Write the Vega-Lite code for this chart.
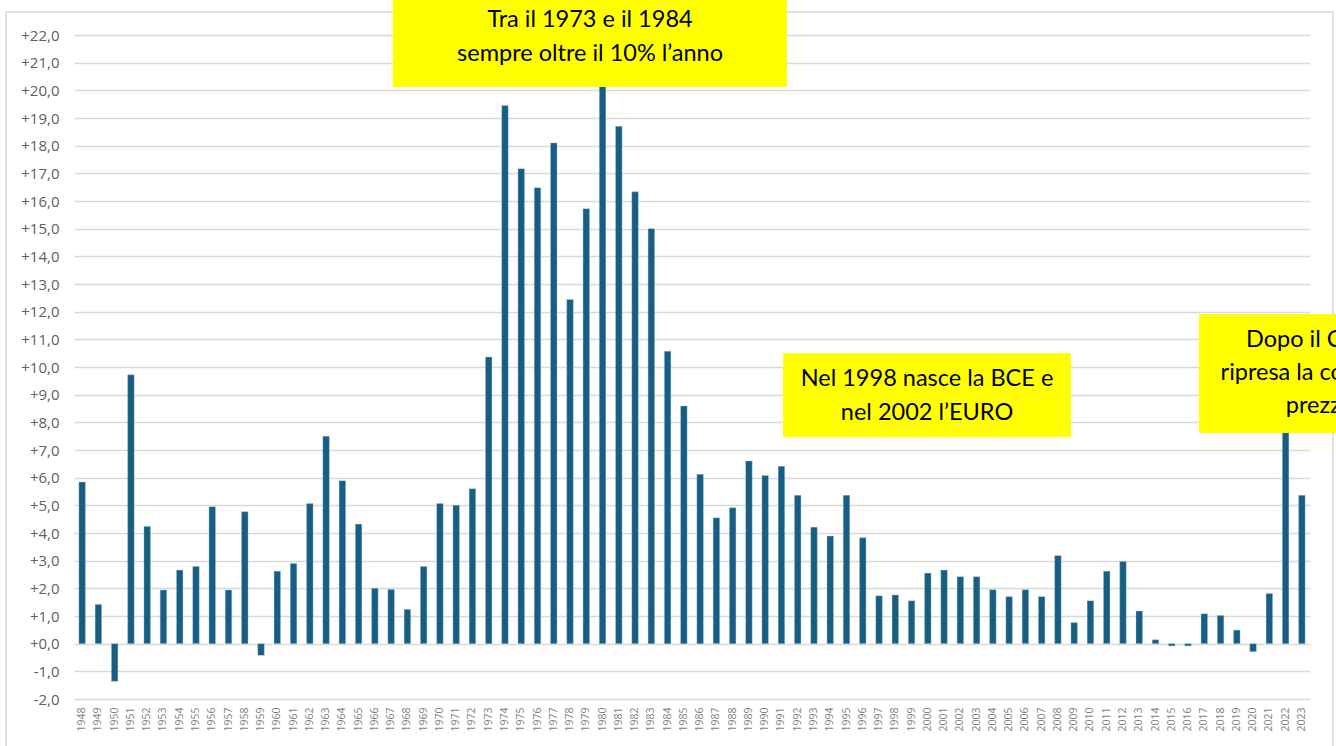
{
  "$schema": "https://vega.github.io/schema/vega-lite/v6.json",
  "width": 1236,
  "height": 664,
  "autosize": {"type": "none"},
  "padding": {"left": 74, "top": 35, "right": 26, "bottom": 47},
  "background": "#ffffff",
  "config": {
    "view": {"stroke": null},
    "locale": {"number": {"decimal": ",", "thousands": ".", "grouping": [3], "currency": ["", " €"], "minus": "-"}},
    "axisY": {"labelFont": "Open Sans", "labelFontSize": 15, "labelColor": "#606060"}
  },
  "datasets": {
    "inflazione": [
      {"anno": "1948", "v": 5.84}, {"anno": "1949", "v": 1.42}, {"anno": "1950", "v": -1.36}, {"anno": "1951", "v": 9.72},
      {"anno": "1952", "v": 4.24}, {"anno": "1953", "v": 1.94}, {"anno": "1954", "v": 2.66}, {"anno": "1955", "v": 2.79},
      {"anno": "1956", "v": 4.95}, {"anno": "1957", "v": 1.94}, {"anno": "1958", "v": 4.77}, {"anno": "1959", "v": -0.42},
      {"anno": "1960", "v": 2.62}, {"anno": "1961", "v": 2.9}, {"anno": "1962", "v": 5.07}, {"anno": "1963", "v": 7.5},
      {"anno": "1964", "v": 5.89}, {"anno": "1965", "v": 4.32}, {"anno": "1966", "v": 2.0}, {"anno": "1967", "v": 1.96},
      {"anno": "1968", "v": 1.24}, {"anno": "1969", "v": 2.79}, {"anno": "1970", "v": 5.07}, {"anno": "1971", "v": 5.0},
      {"anno": "1972", "v": 5.6}, {"anno": "1973", "v": 10.36}, {"anno": "1974", "v": 19.45}, {"anno": "1975", "v": 17.17},
      {"anno": "1976", "v": 16.48}, {"anno": "1977", "v": 18.1}, {"anno": "1978", "v": 12.44}, {"anno": "1979", "v": 15.72},
      {"anno": "1980", "v": 21.1}, {"anno": "1981", "v": 18.7}, {"anno": "1982", "v": 16.33}, {"anno": "1983", "v": 15.0},
      {"anno": "1984", "v": 10.57}, {"anno": "1985", "v": 8.59}, {"anno": "1986", "v": 6.12}, {"anno": "1987", "v": 4.55},
      {"anno": "1988", "v": 4.91}, {"anno": "1989", "v": 6.6}, {"anno": "1990", "v": 6.08}, {"anno": "1991", "v": 6.41},
      {"anno": "1992", "v": 5.36}, {"anno": "1993", "v": 4.21}, {"anno": "1994", "v": 3.89}, {"anno": "1995", "v": 5.36},
      {"anno": "1996", "v": 3.83}, {"anno": "1997", "v": 1.73}, {"anno": "1998", "v": 1.76}, {"anno": "1999", "v": 1.55},
      {"anno": "2000", "v": 2.55}, {"anno": "2001", "v": 2.66}, {"anno": "2002", "v": 2.42}, {"anno": "2003", "v": 2.42},
      {"anno": "2004", "v": 1.95}, {"anno": "2005", "v": 1.7}, {"anno": "2006", "v": 1.95}, {"anno": "2007", "v": 1.7},
      {"anno": "2008", "v": 3.18}, {"anno": "2009", "v": 0.76}, {"anno": "2010", "v": 1.55}, {"anno": "2011", "v": 2.62},
      {"anno": "2012", "v": 2.97}, {"anno": "2013", "v": 1.18}, {"anno": "2014", "v": 0.14}, {"anno": "2015", "v": -0.08},
      {"anno": "2016", "v": -0.08}, {"anno": "2017", "v": 1.08}, {"anno": "2018", "v": 1.02}, {"anno": "2019", "v": 0.49},
      {"anno": "2020", "v": -0.29}, {"anno": "2021", "v": 1.81}, {"anno": "2022", "v": 8.1}, {"anno": "2023", "v": 5.36}
    ],
    "cornice": [
      {"x": 1943.32, "x2": 2024.91, "v": 22.83, "v2": -3.9}
    ],
    "riquadri": [
      {"x": 1967.1, "x2": 1991.34, "v": 23.4, "v2": 20.12},
      {"x": 1991.1, "x2": 2008.8, "v": 10.5, "v2": 7.47},
      {"x": 2016.68, "x2": 2031.06, "v": 11.92, "v2": 7.615}
    ],
    "testi": [
      {"x": 1979.23, "v": 22.28, "t": "Tra il 1973 e il 1984"},
      {"x": 1979.23, "v": 21.06, "t": "sempre oltre il 10% l’anno"},
      {"x": 1999.95, "v": 9.31, "t": "Nel 1998 nasce la BCE e"},
      {"x": 1999.95, "v": 8.085, "t": "nel 2002 l’EURO"},
      {"x": 2023.87, "v": 10.72, "t": "Dopo il Covid"},
      {"x": 2023.87, "v": 9.53, "t": "ripresa la corsa dei"},
      {"x": 2023.87, "v": 8.34, "t": "prezzi"}
    ]
  },
  "layer": [
    {
      "data": {"name": "inflazione"},
      "mark": {"type": "bar", "color": "#175e82", "stroke": "#a9c6d6", "strokeWidth": 0.4},
      "encoding": {
        "x": {
          "field": "anno", "type": "ordinal", "sort": null,
          "scale": {"paddingInner": 0.6, "paddingOuter": 0.3},
          "axis": {
            "title": null, "labelAngle": 270, "labelFont": "Open Sans", "labelFontSize": 10.5,
            "labelColor": "#7f7f7f", "labelPadding": 8, "ticks": false, "domain": false, "grid": false,
            "labelOverlap": false
          }
        },
        "y": {
          "field": "v", "type": "quantitative",
          "scale": {"domain": [-2, 22], "nice": false, "zero": false},
          "axis": {"title": null, "values": [-2, -1, 0, 1, 2, 3, 4, 5, 6, 7, 8, 9, 10, 11, 12, 13, 14, 15, 16, 17, 18, 19, 20, 21, 22], "format": "+.1f",
            "labelFont": "Open Sans", "labelFontSize": 15, "labelColor": "#606060", "labelPadding": 15, "ticks": false, "domain": false, "grid": true, "labelOverlap": false, "gridColor": "#d9d9d9", "gridWidth": 1.6}
        }
      }
    },
    {
      "data": {"name": "cornice"},
      "mark": {"type": "rect", "fill": null, "fillOpacity": 0, "stroke": "#d9d9d9", "strokeWidth": 1.6, "clip": false},
      "encoding": {
        "x": {"field": "x", "type": "quantitative", "scale": {"domain": [1947.5, 2023.5], "nice": false, "zero": false}, "axis": null},
        "x2": {"field": "x2"},
        "y": {"field": "v", "type": "quantitative", "scale": {"domain": [-2, 22], "nice": false, "zero": false},
          "axis": {"title": null, "values": [-2, -1, 0, 1, 2, 3, 4, 5, 6, 7, 8, 9, 10, 11, 12, 13, 14, 15, 16, 17, 18, 19, 20, 21, 22], "format": "+.1f",
            "labelFont": "Open Sans", "labelFontSize": 15, "labelColor": "#606060", "labelPadding": 15, "ticks": false, "domain": false, "grid": true, "labelOverlap": false, "gridColor": "#d9d9d9", "gridWidth": 1.6}},
        "y2": {"field": "v2"}
      }
    },
    {
      "data": {"name": "riquadri"},
      "mark": {"type": "rect", "fill": "#ffff00", "clip": false},
      "encoding": {
        "x": {"field": "x", "type": "quantitative", "scale": {"domain": [1947.5, 2023.5], "nice": false, "zero": false}, "axis": null},
        "x2": {"field": "x2"},
        "y": {"field": "v", "type": "quantitative", "scale": {"domain": [-2, 22], "nice": false, "zero": false},
          "axis": {"title": null, "values": [-2, -1, 0, 1, 2, 3, 4, 5, 6, 7, 8, 9, 10, 11, 12, 13, 14, 15, 16, 17, 18, 19, 20, 21, 22], "format": "+.1f",
            "labelFont": "Open Sans", "labelFontSize": 15, "labelColor": "#606060", "labelPadding": 15, "ticks": false, "domain": false, "grid": true, "labelOverlap": false, "gridColor": "#d9d9d9", "gridWidth": 1.6}},
        "y2": {"field": "v2"}
      }
    },
    {
      "data": {"name": "testi"},
      "mark": {"type": "text", "font": "Lato", "fontSize": 23.5, "color": "#000000", "align": "center", "baseline": "alphabetic", "clip": false},
      "encoding": {
        "x": {"field": "x", "type": "quantitative", "scale": {"domain": [1947.5, 2023.5], "nice": false, "zero": false}, "axis": null},
        "y": {"field": "v", "type": "quantitative", "scale": {"domain": [-2, 22], "nice": false, "zero": false},
          "axis": {"title": null, "values": [-2, -1, 0, 1, 2, 3, 4, 5, 6, 7, 8, 9, 10, 11, 12, 13, 14, 15, 16, 17, 18, 19, 20, 21, 22], "format": "+.1f",
            "labelFont": "Open Sans", "labelFontSize": 15, "labelColor": "#606060", "labelPadding": 15, "ticks": false, "domain": false, "grid": true, "labelOverlap": false, "gridColor": "#d9d9d9", "gridWidth": 1.6}},
        "text": {"field": "t"}
      }
    }
  ],
  "resolve": {"scale": {"x": "independent"}, "axis": {"x": "independent"}}
}
